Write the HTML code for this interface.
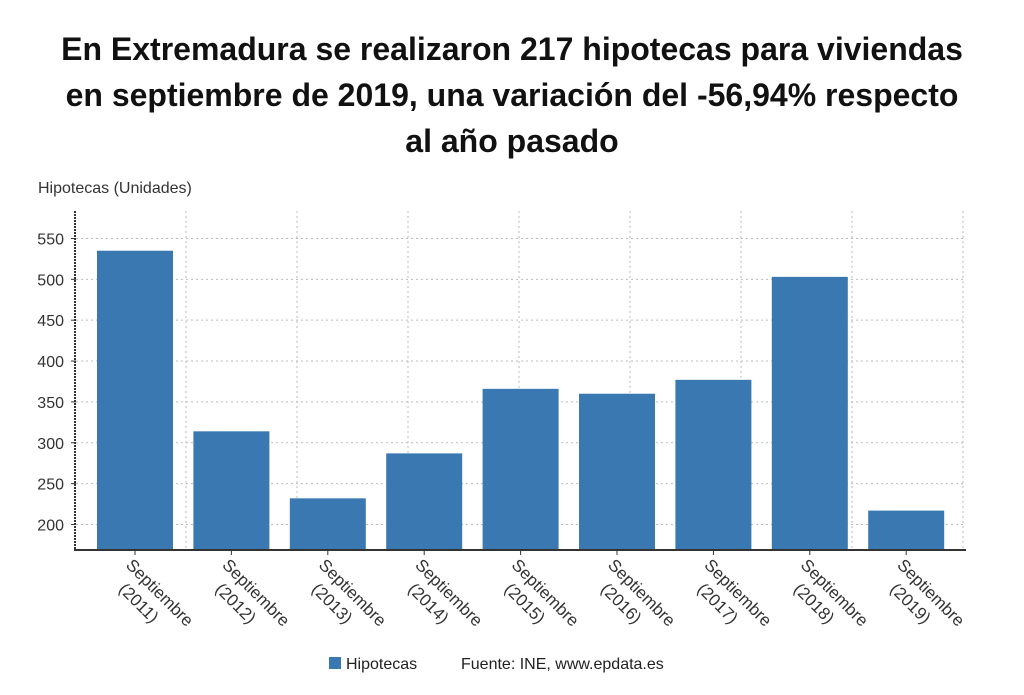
<!DOCTYPE html>
<html><head><meta charset="utf-8"><style>
body{margin:0;background:#fff;font-family:"Liberation Sans","DejaVu Sans",sans-serif}
</style></head><body>
<svg width="1024" height="690" xmlns="http://www.w3.org/2000/svg">
<g font-weight="bold" font-size="32" fill="#111" text-anchor="middle">
<text x="512" y="60">En Extremadura se realizaron 217 hipotecas para viviendas</text>
<text x="512" y="106">en septiembre de 2019, una variación del -56,94% respecto</text>
<text x="512" y="152">al año pasado</text>
</g>
<text x="38" y="193" font-size="16" fill="#333">Hipotecas (Unidades)</text>
<g id="grid"></g><g id="bars"></g><g id="axes"></g>
<defs><clipPath id="lc"><rect x="0" y="551" width="1024" height="75"/></clipPath></defs>
<g id="xl" clip-path="url(#lc)"></g>
<rect x="329" y="657" width="12" height="12" fill="#3a78b1"/>
<text x="346" y="669" font-size="16" fill="#222">Hipotecas</text>
<text x="461" y="669" font-size="16" fill="#222">Fuente: INE, www.epdata.es</text>
</svg>
<script>
const categories=["2011","2012","2013","2014","2015","2016","2017","2018","2019"];
const values=[535,314,232,287,366,360,377,503,217];
const yTicks=[200,250,300,350,400,450,500,550];
const NS="http://www.w3.org/2000/svg";
const yMin=170,y0=549,pxPer=40.86/50;
const y=v=>y0-(v-yMin)*pxPer;
const x=i=>97+i*96.4;
const bw=76;
function mk(t,a,p){const e=document.createElementNS(NS,t);for(const k in a)e.setAttribute(k,a[k]);p.appendChild(e);return e;}
const grid=document.getElementById('grid'),bars=document.getElementById('bars'),axes=document.getElementById('axes'),xl=document.getElementById('xl');
yTicks.forEach(t=>{
 const l=mk('line',{x1:76,x2:965,y1:y(t),y2:y(t),stroke:'#bbb','stroke-dasharray':'2,3'},grid);
 
 
 const tx=mk('text',{x:64,y:y(t)+6,'font-size':16,fill:'#333','text-anchor':'end'},axes);
 tx.textContent=t;
 
 
 mk('line',{x1:71,x2:76,y1:y(t),y2:y(t),stroke:'#333'},axes);
});
for(let k=0;k<8;k++){
 const gx=186+k*111;
 const l=mk('line',{x1:gx,x2:gx,y1:211,y2:549,stroke:'#bbb','stroke-dasharray':'2,3'},grid);
 
 
}
values.forEach((v,i)=>{
 const r=mk('rect',{x:x(i),y:y(v),width:bw,height:y0-y(v),fill:'#3a78b1'},bars);
 
 
 const cx=x(i)+bw/2;
 mk('line',{x1:cx,x2:cx,y1:550,y2:555,stroke:'#333'},axes);
 const t=mk('text',{transform:`translate(${cx-10},${566}) rotate(45)`,'font-size':17,fill:'#333'},xl);
 
 
 const s1=mk('tspan',{x:0,y:0},t);s1.textContent='Septiembre';
 const s2=mk('tspan',{x:12,y:22},t);s2.textContent='('+categories[i]+')';
});
mk('line',{x1:75,x2:75,y1:211,y2:550,stroke:'#333','stroke-width':2,'stroke-dasharray':'2,1'},axes);
mk('line',{x1:74,x2:966,y1:550,y2:550,stroke:'#333','stroke-width':2},axes);
</script>
</body></html>
